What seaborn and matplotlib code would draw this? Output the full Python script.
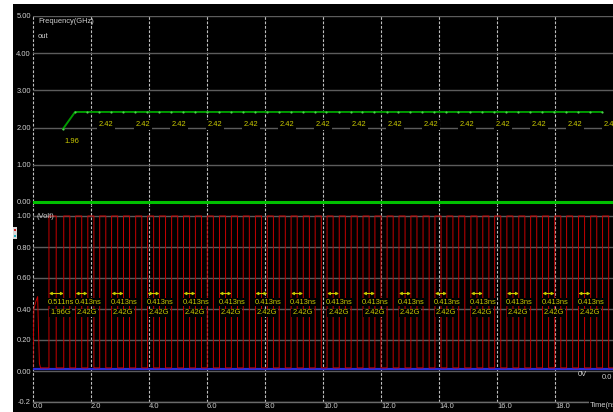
import matplotlib
matplotlib.use("Agg")
import matplotlib.pyplot as plt
from matplotlib import font_manager
from matplotlib.patches import Rectangle
import pandas as pd
import seaborn as sns

# ---------------- data ----------------
freq_t = [1.03, 1.45, 1.86, 2.28, 2.69, 3.10, 3.52, 3.93, 4.34, 4.76, 5.17, 5.58,
          5.99, 6.41, 6.82, 7.23, 7.65, 8.06, 8.47, 8.88, 9.30, 9.71, 10.12, 10.54,
          10.95, 11.36, 11.77, 12.19, 12.60, 13.01, 13.43, 13.84, 14.25, 14.66, 15.08,
          15.49, 15.90, 16.32, 16.73, 17.14, 17.55, 17.97, 18.38, 18.79, 19.21, 19.62]
freq_v = [1.96, 2.42, 2.42, 2.42, 2.42, 2.42, 2.42, 2.42, 2.42, 2.42, 2.42, 2.42,
          2.42, 2.42, 2.42, 2.42, 2.42, 2.42, 2.42, 2.42, 2.42, 2.42, 2.42, 2.42,
          2.42, 2.42, 2.42, 2.42, 2.42, 2.42, 2.42, 2.42, 2.42, 2.42, 2.42,
          2.42, 2.42, 2.42, 2.42, 2.42, 2.42, 2.42, 2.42, 2.42, 2.42, 2.42]
freq_label_t = [2.52, 3.79, 5.03, 6.28, 7.52, 8.76, 10.00, 11.24, 12.48, 13.72,
                14.97, 16.21, 17.45, 18.69, 19.93]
freq_label_txt = ["2.42"] * 15
first_label = "1.96"

# square wave edges (ns)
glitch_t = [0.00, 0.03, 0.10, 0.16, 0.22, 0.26]
glitch_v = [0.02, 0.40, 0.45, 0.48, 0.05, 0.02]
rise_t = [0.55, 1.06, 1.47, 1.89, 2.30, 2.71, 3.12, 3.54, 3.95, 4.36, 4.78, 5.19,
          5.60, 6.01, 6.43, 6.84, 7.25, 7.67, 8.08, 8.49, 8.90, 9.32, 9.73, 10.14,
          10.56, 10.97, 11.38, 11.79, 12.21, 12.62, 13.03, 13.45, 13.86, 14.27,
          14.68, 15.10, 15.51, 15.92, 16.34, 16.75, 17.16, 17.57, 17.99, 18.40,
          18.81, 19.23, 19.64]
fall_t = [0.80, 1.27, 1.68, 2.10, 2.51, 2.92, 3.33, 3.75, 4.16, 4.57, 4.99, 5.40,
          5.81, 6.22, 6.64, 7.05, 7.46, 7.88, 8.29, 8.70, 9.11, 9.53, 9.94, 10.35,
          10.77, 11.18, 11.59, 12.00, 12.42, 12.83, 13.24, 13.66, 14.07, 14.48,
          14.89, 15.31, 15.72, 16.13, 16.55, 16.96, 17.37, 17.78, 18.20, 18.61,
          19.02, 19.44, 19.85]
v_low, v_high = 0.02, 1.0
base_t = [0.0, 20.0]
base_v = [0.015, 0.015]

meas_start = [0.55, 1.47, 2.71, 3.95, 5.19, 6.43, 7.67, 8.90, 10.14, 11.38,
              12.62, 13.86, 15.10, 16.34, 17.57, 18.81]
meas_period = [0.511, 0.413, 0.413, 0.413, 0.413, 0.413, 0.413, 0.413, 0.413,
               0.413, 0.413, 0.413, 0.413, 0.413, 0.413, 0.413]
meas_freq = ["1.96G", "2.42G", "2.42G", "2.42G", "2.42G", "2.42G", "2.42G", "2.42G",
             "2.42G", "2.42G", "2.42G", "2.42G", "2.42G", "2.42G", "2.42G", "2.42G"]

x_ticks = [0, 2, 4, 6, 8, 10, 12, 14, 16, 18]
x_labels = ["0.0", "2.0", "4.0", "6.0", "8.0", "10.0", "12.0", "14.0", "16.0", "18.0"]
top_yticks = [0, 1, 2, 3, 4, 5]
top_ylabels = ["0.00", "1.00", "2.00", "3.00", "4.00", "5.00"]
bot_yticks = [-0.2, 0.0, 0.2, 0.4, 0.6, 0.8, 1.0]
bot_ylabels = ["-0.2", "0.00", "0.20", "0.40", "0.60", "0.80", "1.00"]

# ---------------- style ----------------
sns.set_style("dark")
names = {f.name for f in font_manager.fontManager.ttflist}
fam = "Liberation Sans Narrow" if "Liberation Sans Narrow" in names else "Liberation Sans"
plt.rcParams["font.family"] = [fam, "DejaVu Sans"]

W, H = 613, 412
fig = plt.figure(figsize=(W / 100, H / 100), dpi=100, facecolor="white")
fig.patches.append(Rectangle((13 / W, 0), 600 / W, 408 / H, transform=fig.transFigure,
                             facecolor="black", edgecolor="none", zorder=-10))
# tiny legend icon at left
fig.patches.append(Rectangle((13 / W, (H - 239) / H), 4 / W, 12 / H, transform=fig.transFigure,
                             facecolor="#d8d8d8", edgecolor="none"))
fig.patches.append(Rectangle((14 / W, (H - 231) / H), 2 / W, 2 / H, transform=fig.transFigure,
                             facecolor="#d02020", edgecolor="none"))
fig.patches.append(Rectangle((14 / W, (H - 237) / H), 2 / W, 2 / H, transform=fig.transFigure,
                             facecolor="#20b0c0", edgecolor="none"))

ax1 = fig.add_axes([33 / W, 206.3 / H, 580 / W, 189.7 / H])
ax2 = fig.add_axes([33 / W, 10 / H, 580 / W, 196.85 / H])

tick_col = "#d0d0d0"
yel = "#cccc00"
fs = 5.4

# ---------------- top panel ----------------
df_f = pd.DataFrame({"t": freq_t, "f": freq_v})
sns.lineplot(data=df_f, x="t", y="f", ax=ax1, color="#009a00", lw=1.4,
             marker="o", markersize=1.6, markerfacecolor="#50d050",
             markeredgewidth=0, estimator=None, sort=False)
sns.lineplot(x=base_t, y=[0.0, 0.0], ax=ax1, color="#00c000", lw=2.2, estimator=None)

# ---------------- bottom panel ----------------
wt, wv = list(glitch_t), list(glitch_v)
for r, f in zip(rise_t, fall_t):
    wt += [r, r, f, f]
    wv += [v_low, v_high, v_high, v_low]
wt.append(20.0)
wv.append(v_low)
df_w = pd.DataFrame({"t": wt, "v": wv})
sns.lineplot(data=df_w, x="t", y="v", ax=ax2, color="#c80000", lw=0.7,
             estimator=None, sort=False)
sns.lineplot(x=base_t, y=base_v, ax=ax2, color="#2a2ad8", lw=1.6, estimator=None, zorder=1)

for ax in (ax1, ax2):
    ax.set_facecolor("black")
    ax.set_xlim(0, 20)
    ax.set_xticks(x_ticks)
    for s in ax.spines.values():
        s.set_visible(False)
    ax.grid(axis="y", color="#5c5c5c", lw=1.0, ls="-")
    ax.grid(axis="x", color="#c0c0c0", lw=0.8, ls=(0, (2.5, 1.5)))
    for ln in ax.get_xgridlines():
        ln.set_clip_on(False)
    ax.tick_params(axis="both", colors=tick_col, length=0, labelsize=fs, pad=1.5)
    ax.set_xlabel("")
    ax.set_ylabel("")

ax1.set_ylim(-0.1, 5.0)
ax1.set_yticks(top_yticks, top_ylabels)
ax1.set_xticklabels([])
for t, s in zip(freq_label_t, freq_label_txt):
    ax1.text(t, 2.08, s, color=yel, fontsize=fs, ha="center", va="center",
             bbox=dict(facecolor="black", edgecolor="none", pad=1.0))
ax1.text(freq_t[0] + 0.3, 1.63, first_label, color=yel, fontsize=fs, ha="center", va="center")
ax1.text(0.17, 4.84, "Frequency(GHz)", color=tick_col, fontsize=fs, ha="left", va="center")
ax1.text(0.17, 4.46, "out", color=tick_col, fontsize=fs, ha="left", va="center")

ax2.set_ylim(-0.2, 1.07)
ax2.set_yticks(bot_yticks, bot_ylabels)
for s0, p, fq in zip(meas_start, meas_period, meas_freq):
    ax2.annotate("", xy=(s0, 0.50), xytext=(s0 + p, 0.50),
                 arrowprops=dict(arrowstyle="<->", color=yel, lw=0.8,
                                 mutation_scale=4, shrinkA=0, shrinkB=0))
    ax2.text(s0 - 0.04, 0.445, f"{p:.3f}ns", color=yel, fontsize=fs, ha="left", va="center",
             bbox=dict(facecolor="black", edgecolor="none", pad=0.6))
    ax2.text(s0 + 0.04, 0.375, fq, color=yel, fontsize=fs, ha="left", va="center",
             bbox=dict(facecolor="black", edgecolor="none", pad=0.6))

ax2.text(0.12, 1.0, "(Volt)", color=tick_col, fontsize=fs, ha="left", va="center")
ax2.text(18.8, -0.02, "0V", color=tick_col, fontsize=fs, ha="left", va="center")
ax2.text(19.62, -0.04, "0.0", color=tick_col, fontsize=fs, ha="left", va="center", clip_on=False)

ax2.spines["bottom"].set_visible(True)
ax2.spines["bottom"].set_color("#6a6a6a")
ax2.spines["bottom"].set_linewidth(1.0)
ax2.set_xticks(x_ticks, x_labels)
for lbl in ax2.get_xticklabels():
    lbl.set_ha("left")
    lbl.set_bbox(dict(facecolor="black", edgecolor="none", pad=0.8))
ax2.tick_params(axis="x", pad=0.5)
ax2.text(19.2, -0.222, "Time(ns)", color=tick_col, fontsize=fs, ha="left", va="center",
         clip_on=False, bbox=dict(facecolor="black", edgecolor="none", pad=0.8))

fig.savefig("out.png", dpi=100, facecolor="white")
